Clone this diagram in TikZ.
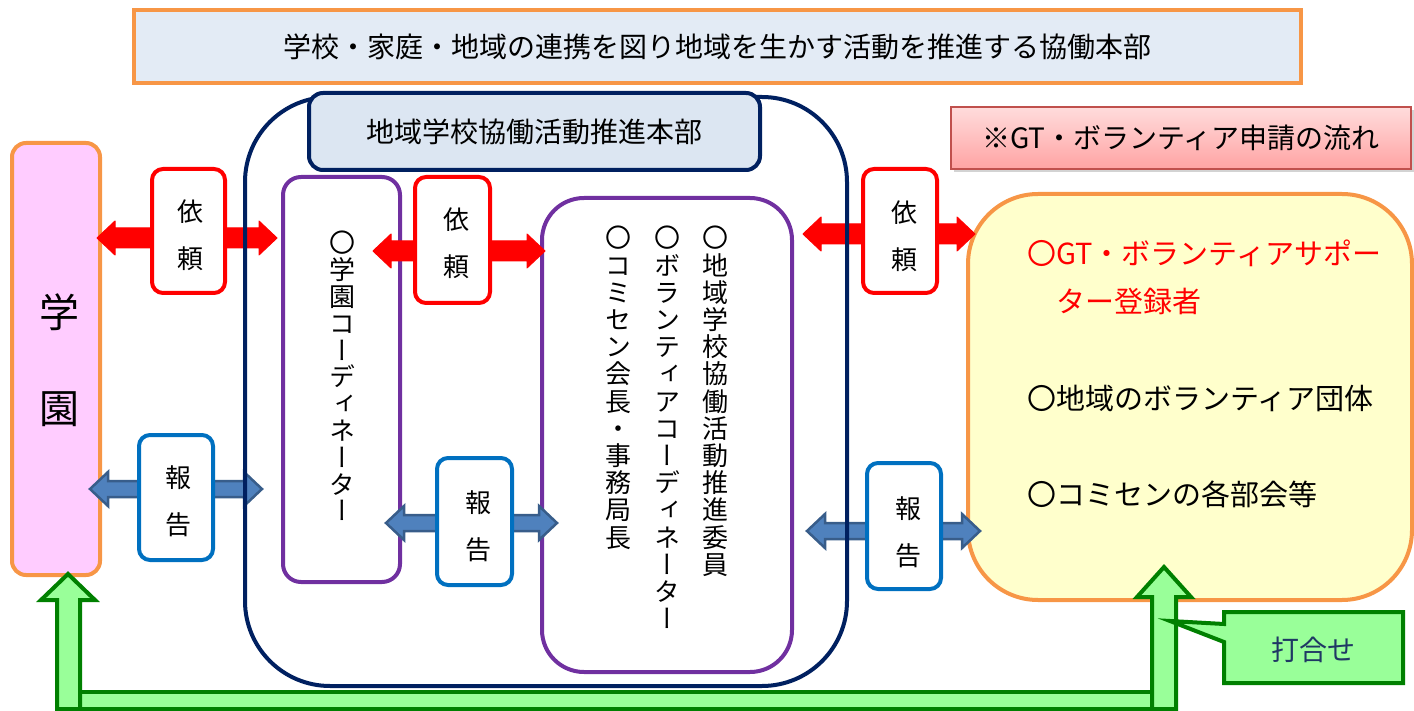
\documentclass[tikz,border=0pt]{standalone}
\usepackage{fontspec}
\setmainfont{Noto Sans CJK JP}
\newfontfamily\vjp[RawFeature=+vert]{Noto Sans CJK JP}
\usetikzlibrary{calc,shadows}
\definecolor{orng}{HTML}{F79646}
\definecolor{pinkfill}{HTML}{FFCCFF}
\definecolor{navy}{HTML}{002060}
\definecolor{purp}{HTML}{7030A0}
\definecolor{lblue}{HTML}{0070C0}
\definecolor{arrblue}{HTML}{4F81BD}
\definecolor{arrblueb}{HTML}{385D8A}
\definecolor{yel}{HTML}{FFFFCC}
\definecolor{grfill}{HTML}{99FF99}
\definecolor{grline}{HTML}{008000}
\definecolor{bannerfill}{HTML}{DCE6F2}
\definecolor{hdrline}{HTML}{C0504D}
\definecolor{hdrtop}{HTML}{FFDCDC}
\definecolor{hdrbot}{HTML}{FFA3A3}
\definecolor{txtnavy}{HTML}{1F3864}
\newcommand\dblarr[6]{%
  \path[#1] (#2) -- ($(#2)+(#6,-#5)$) -- ($(#2)+(#6,-#4)$) -- ($(#3)+(-#6,-#4)$) -- ($(#3)+(-#6,-#5)$) -- (#3)
   -- ($(#3)+(-#6,#5)$) -- ($(#3)+(-#6,#4)$) -- ($(#2)+(#6,#4)$) -- ($(#2)+(#6,#5)$) -- cycle;}
\tikzset{
  redarr/.style={fill=red, draw=red, line width=1, line join=round},
  bluearr/.style={fill=arrblue, draw=arrblueb, line width=2.5, line join=miter},
  yiraibox/.style={draw=red, line width=4, fill=white, rounded corners=11, inner sep=0},
  hokokubox/.style={draw=lblue, line width=4, fill=white, rounded corners=11, inner sep=0},
  pairtxt/.style={align=center, inner sep=0, font=\fontsize{26}{47}\selectfont},
  vcol/.style={anchor=north, align=center, inner sep=0, font=\vjp\fontsize{26}{27.2}\selectfont},
  purpbox/.style={draw=purp, line width=4, fill=white, inner sep=0},
  ytxt/.style={anchor=west, inner sep=0, font=\fontsize{29}{34}\selectfont},
  greenshape/.style={fill=grfill, draw=grline, line width=4, line join=miter},
}
\begin{document}
\begin{tikzpicture}[x=1pt,y=-1pt]
\useasboundingbox (0,0) rectangle (1414,711);
% top banner
\node[draw=orng, line width=4, fill=bannerfill!80!white, minimum width=1167, minimum height=73, inner sep=0,
  font=\fontsize{28}{34}\selectfont] (banner) at (717.5,46.5)
  {学校・家庭・地域の連携を図り地域を生かす活動を推進する協働本部};
% main boxes
\node[draw=orng, line width=4, fill=pinkfill, rounded corners=14, minimum width=88, minimum height=432, inner sep=0] (gakuen) at (56,359) {};
\node[align=center, inner sep=0, font=\fontsize{40}{96}\selectfont] (gakuentxt) at (59,360) {学\\園};
\node[purpbox, rounded corners=18, minimum width=117, minimum height=405] (gc) at (341.5,379.5) {};
\node[vcol, font=\vjp\fontsize{26}{26.8}\selectfont] (gct) at (342,231) {〇\\学\\園\\コ\\ー\\デ\\ィ\\ネ\\ー\\タ\\ー};
\node[purpbox, rounded corners=42, minimum width=250, minimum height=474] (bigp) at (667,435) {};
\node[vcol] (c1) at (715,226) {〇\\地\\域\\学\\校\\協\\働\\活\\動\\推\\進\\委\\員};
\node[vcol] (c2) at (667,226) {〇\\ボ\\ラ\\ン\\テ\\ィ\\ア\\コ\\ー\\デ\\ィ\\ネ\\ー\\タ\\ー};
\node[vcol] (c3) at (618,226) {〇\\コ\\ミ\\セ\\ン\\会\\長\\・\\事\\務\\局\\長};
\node[draw=orng, line width=4, fill=yel, rounded corners=70, minimum width=444, minimum height=406, inner sep=0] (yb) at (1190,397) {};
\node[ytxt, text=red] (t1) at (1027,253) {〇GT・ボランティアサポー};
\node[ytxt, text=red] (t2) at (1056,301) {ター登録者};
\node[ytxt] (t3) at (1027,398) {〇地域のボランティア団体};
\node[ytxt] (t4) at (1027,494) {〇コミセンの各部会等};
% arrows
\coordinate (ra1) at (97,238);  \coordinate (rb1) at (277,238);
\coordinate (ra2) at (373,251); \coordinate (rb2) at (545,251);
\coordinate (ra3) at (803,234); \coordinate (rb3) at (975,234);
\coordinate (ba1) at (90,489);  \coordinate (bb1) at (262,489);
\coordinate (ba2) at (386,523); \coordinate (bb2) at (557,523);
\coordinate (ba3) at (807,531); \coordinate (bb3) at (980,531);
\dblarr{redarr}{ra1}{rb1}{10}{17}{18}
\dblarr{redarr}{ra2}{rb2}{10}{17}{18}
\dblarr{redarr}{ra3}{rb3}{10}{17}{18}
\dblarr{bluearr}{ba1}{bb1}{8}{17}{18}
\dblarr{bluearr}{ba2}{bb2}{8}{17}{18}
\dblarr{bluearr}{ba3}{bb3}{8}{17}{18}
% navy container
\node[draw=navy, line width=4, rounded corners=85, minimum width=602, minimum height=589, inner sep=0] (cont) at (546,391.5) {};
% title box
\node[draw=navy, line width=4, fill=bannerfill, rounded corners=14, minimum width=451, minimum height=77, inner sep=0,
  font=\fontsize{28}{34}\selectfont] (title) at (534.5,131.5) {地域学校協働活動推進本部};
% label boxes
\node[yiraibox, minimum width=73, minimum height=124] (y1) at (188.5,231) {};
\node[pairtxt] (y1t) at (190,235) {依\\頼};
\node[hokokubox, minimum width=74, minimum height=125] (h1) at (176,497.5) {};
\node[pairtxt] (h1t) at (178,501) {報\\告};
\node[yiraibox, minimum width=75, minimum height=126] (y2) at (452.5,240) {};
\node[pairtxt] (y2t) at (456,243.5) {依\\頼};
\node[hokokubox, minimum width=75, minimum height=127] (h2) at (474.5,521.5) {};
\node[pairtxt] (h2t) at (478,526) {報\\告};
\node[yiraibox, minimum width=74, minimum height=124] (y3) at (900,231) {};
\node[pairtxt] (y3t) at (904,236) {依\\頼};
\node[hokokubox, minimum width=74, minimum height=126] (h3) at (904,526) {};
\node[pairtxt] (h3t) at (908,532) {報\\告};
% header
\node[draw=hdrline, line width=1.5, top color=hdrtop, bottom color=hdrbot,
  drop shadow={shadow xshift=3pt, shadow yshift=-3pt, opacity=0.35},
  minimum width=460, minimum height=62, inner sep=0, font=\fontsize{28}{34}\selectfont] (hdr) at (1181,138)
  {※GT・ボランティア申請の流れ};
% green arrows
\draw[greenshape] (57,692) rectangle (1176,709);
\draw[greenshape] (57,709) -- (57,600) -- (41,600) -- (68,574) -- (95,600) -- (80,600) -- (80,709) -- cycle;
\draw[greenshape] (1152,709) -- (1152,597) -- (1137,597) -- (1164,567) -- (1191,597) -- (1176,597) -- (1176,709) -- cycle;
% callout
\coordinate (ptip) at (1170,621);
\draw[greenshape] (1224,612) -- (1403,612) -- (1403,683) -- (1224,683) -- (1224,642) -- (ptip) -- (1224,624) -- cycle;
\node[inner sep=0, text=txtnavy, font=\fontsize{28}{34}\selectfont] (uchi) at (1313,650) {打合せ};
\end{tikzpicture}
\end{document}
